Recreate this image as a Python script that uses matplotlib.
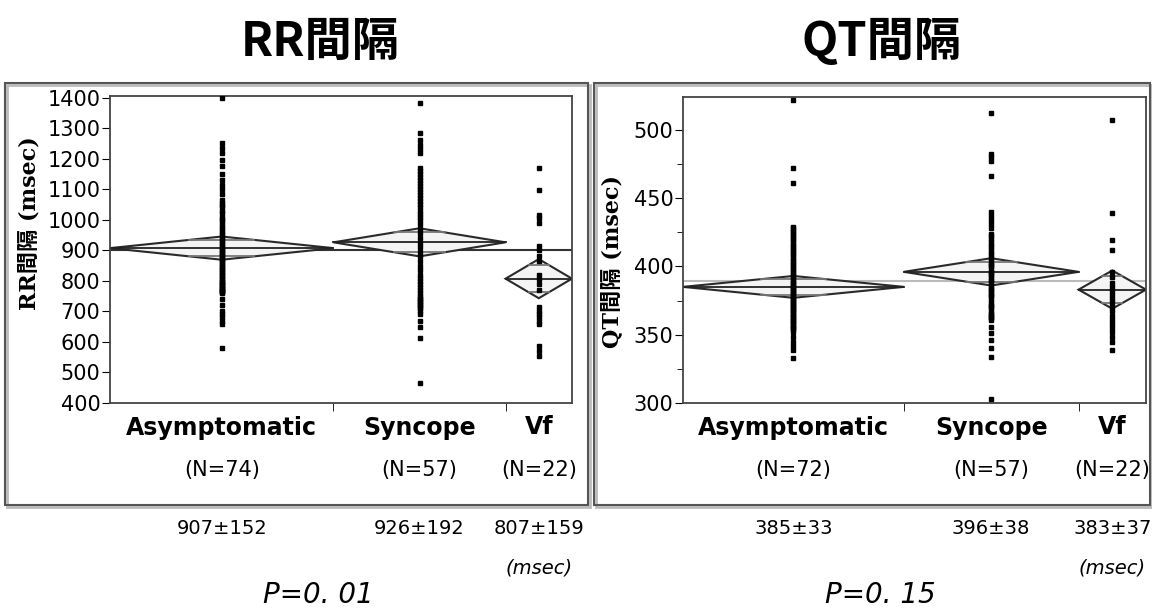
import numpy as np
import matplotlib
matplotlib.use("Agg")
import matplotlib.pyplot as plt
from matplotlib.patches import Polygon, Rectangle
from matplotlib.transforms import blended_transform_factory

plt.rcParams['font.family'] = ['DejaVu Sans', 'Noto Sans CJK JP']

groups = ["Asymptomatic", "Syncope", "Vf"]

# RR間隔
rr_n = [74, 57, 22]
rr_mean = [907, 926, 807]
rr_sd = [152, 192, 159]
rr_ci = [38, 46, 64]
rr_grand = 900
rr_asym = [1400, 1250, 1235, 1220, 1195, 1175, 1150, 1130, 1115, 1100, 1085,
           1066, 1055, 1048, 1040, 1030, 1022, 1010, 1002, 995, 985,
           975, 968, 960, 952, 945, 938, 930, 925, 918, 910,
           905, 900, 895, 890, 885, 880, 875, 870, 865, 860,
           855, 850, 845, 840, 835, 830, 825, 820, 815, 810,
           805, 800, 797, 793, 790, 786, 782, 778, 775, 772,
           770, 767, 765, 762, 760,
           740, 720, 700, 690, 680, 670, 660, 580]
rr_sync = [1383, 1284, 1260, 1245, 1230, 1220,
           1170, 1160, 1150, 1140, 1130, 1120, 1110, 1100, 1090, 1080,
           1070, 1060, 1050, 1040, 1030, 1020, 1010, 1000,
           985, 970, 955, 940, 925, 910, 895, 880, 865, 850, 835, 820,
           810, 800, 790, 780, 770, 760, 750,
           745, 740, 735, 730, 725, 720, 715, 710, 700,
           690, 670, 650, 612, 465]
rr_vf = [1170, 1098, 1016, 1005, 990, 915, 900, 880, 865, 820, 805,
         790, 770, 715, 700, 690, 680, 670, 660, 585, 570, 555]

# QT間隔
qt_n = [72, 57, 22]
qt_mean = [385, 396, 383]
qt_sd = [33, 38, 37]
qt_ci = [8, 10, 14]
qt_grand = 389
qt_asym = [522, 472, 461,
           429, 428, 426, 425, 423, 422, 420, 419, 417, 416,
           414, 413, 411, 410, 408, 407, 405, 404, 402, 401,
           399, 398, 396, 395, 393, 392, 390, 389, 388, 387,
           386, 385, 384, 383, 382, 381, 380, 379, 378, 377, 376, 375,
           374, 373, 372, 371, 370, 369, 368, 367, 366, 365, 364, 363,
           362, 361, 360, 359, 358, 357, 356, 355, 354, 352,
           348, 345, 342, 339, 333]
qt_sync = [512, 482, 480, 477, 466, 440, 437, 434, 431, 428,
           424, 422, 420, 418, 416, 414, 412, 410, 408, 406,
           404, 402, 400, 398, 396, 394, 392, 390, 388, 386,
           384, 382, 380, 378, 376, 374, 372, 370, 368, 366,
           365, 364, 363, 362, 361, 383, 389, 395, 401, 379, 371,
           356, 351, 346, 340, 334, 303]
qt_vf = [507, 439, 419, 412, 396, 392, 388, 385, 382, 379, 376,
         373, 370, 367, 364, 361, 358, 355, 352, 348, 345, 339]

W, H = 1152, 610


def fx(px):
    return px / W


def fy(py):
    return 1 - py / H


def draw_panel(ax, pts, ns, means, cis, grand, grand_color):
    edges = np.concatenate([[0], np.cumsum(ns)])
    centers = (edges[:-1] + edges[1:]) / 2
    ax.axhline(grand, color=grand_color, lw=1.5, zorder=1)
    for i in range(len(ns)):
        l, r, c = edges[i], edges[i + 1], centers[i]
        m, ci = means[i], cis[i]
        d = Polygon([(l, m), (c, m + ci), (r, m), (c, m - ci)], closed=True,
                    fc='#f4f4f4', ec='#2a2a2a', lw=1.5, zorder=2)
        ax.add_patch(d)
        ax.plot([l, r], [m, m], color='#222222', lw=1.3, zorder=2)
        h = ci / np.sqrt(2)
        hw = (r - l) / 2 * (1 - h / ci)
        for s in (1, -1):
            ax.plot([c - hw, c + hw], [m + s * h, m + s * h], color='#777777',
                    lw=1.3, zorder=2)
        ax.plot(np.full(len(pts[i]), c), pts[i], 's', ms=3.5, color='black',
                zorder=3)
    ax.set_xlim(edges[0], edges[-1])
    ax.set_xticks(centers, groups, fontsize=17, fontweight='bold')
    ax.set_xticks(edges[1:-1], minor=True)
    ax.tick_params(axis='x', which='major', length=0, pad=9)
    ax.tick_params(axis='x', which='minor', length=6, direction='out')
    ax.tick_params(axis='y', labelsize=15, length=6, pad=1)
    for sp in ax.spines.values():
        sp.set_color('#444444')
        sp.set_linewidth(1.3)
    return centers


fig = plt.figure(figsize=(W / 100, H / 100), dpi=100)

# outer frames
for x0, x1 in [(5, 588), (594, 1150)]:
    fig.patches.append(Rectangle((fx(x0) + 0.002, fy(507)), fx(x1 - x0), fy(83) - fy(505),
                                 transform=fig.transFigure, fill=False,
                                 ec='#bbbbbb', lw=2))
    fig.patches.append(Rectangle((fx(x0), fy(505)), fx(x1 - x0), fy(83) - fy(505),
                                 transform=fig.transFigure, fill=False,
                                 ec='#555555', lw=1.5))

ax1 = fig.add_axes([fx(110), fy(403), fx(572 - 110), fy(96) - fy(403)])
c1 = draw_panel(ax1, [rr_asym, rr_sync, rr_vf], rr_n, rr_mean, rr_ci,
                rr_grand, '#333333')
ax1.set_ylim(400, 1405)
ax1.set_yticks(np.arange(400, 1401, 100))

ax2 = fig.add_axes([fx(683), fy(403), fx(1146 - 683), fy(97) - fy(403)])
c2 = draw_panel(ax2, [qt_asym, qt_sync, qt_vf], qt_n, qt_mean, qt_ci,
                qt_grand, '#bbbbbb')
ax2.set_ylim(300, 524)
ax2.set_yticks([300, 350, 400, 450, 500])
ax2.set_yticks([325, 375, 425, 475], minor=True)
ax2.tick_params(axis='y', which='minor', length=4)

# titles
fig.text(fx(320), fy(42), "RR間隔", ha='center', va='center', fontsize=34,
         fontweight='bold', family=['Noto Sans CJK JP'])
fig.text(fx(882), fy(42), "QT間隔", ha='center', va='center', fontsize=34,
         fontweight='bold', family=['Noto Sans CJK JP'])

# y labels
fig.text(fx(30), fy(223), "RR間隔 (msec)", rotation=90, ha='center', va='center',
         fontsize=16, fontweight='bold', family=['DejaVu Serif', 'Noto Sans CJK JP'])
fig.text(fx(612), fy(262), "QT間隔 (msec)", rotation=90, ha='center', va='center',
         fontsize=16, fontweight='bold', family=['DejaVu Serif', 'Noto Sans CJK JP'])

# N labels, mean±sd, p-values
for ax, centers, ns, means, sds in [
        (ax1, c1, rr_n, rr_mean, rr_sd),
        (ax2, c2, qt_n, qt_mean, qt_sd)]:
    tr = blended_transform_factory(ax.transData, fig.transFigure)
    for c, n, m, s in zip(centers, ns, means, sds):
        ax.text(c, fy(470), f"(N={n})", transform=tr, ha='center', va='center',
                fontsize=15, clip_on=False)
        ax.text(c, fy(528), f"{m}±{s}", transform=tr, ha='center', va='center',
                fontsize=14, clip_on=False)
    ax.text(centers[-1], fy(568), "(msec)", transform=tr, ha='center',
            va='center', fontsize=14, style='italic', clip_on=False)

fig.text(fx(318), fy(595), "P=0. 01", ha='center', va='center', fontsize=20,
         style='italic')
fig.text(fx(880), fy(595), "P=0. 15", ha='center', va='center', fontsize=20,
         style='italic')

fig.savefig("out.png", dpi=100)
